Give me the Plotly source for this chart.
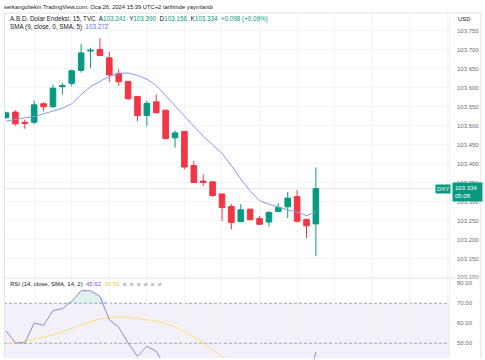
import plotly.graph_objects as go

# ---------------- data ----------------
opens = [103.521, 103.536, 103.509, 103.509, 103.558, 103.550, 103.603, 103.612, 103.646, 103.697,
         103.701, 103.679, 103.638, 103.617, 103.577, 103.527, 103.563, 103.541, 103.468, 103.485,
         103.395, 103.354, 103.352, 103.320, 103.287, 103.247, 103.280, 103.255, 103.246, 103.274,
         103.286, 103.313, 103.253, 103.241]
highs = [103.537, 103.541, 103.516, 103.566, 103.562, 103.608, 103.613, 103.648, 103.715, 103.705,
         103.731, 103.694, 103.648, 103.617, 103.577, 103.566, 103.582, 103.541, 103.487, 103.485,
         103.407, 103.372, 103.352, 103.320, 103.293, 103.293, 103.280, 103.262, 103.275, 103.295,
         103.325, 103.330, 103.253, 103.390]
lows = [103.519, 103.500, 103.492, 103.504, 103.538, 103.547, 103.582, 103.604, 103.640, 103.652,
        103.685, 103.615, 103.605, 103.569, 103.512, 103.499, 103.534, 103.464, 103.442, 103.385,
        103.350, 103.341, 103.313, 103.249, 103.227, 103.246, 103.252, 103.238, 103.234, 103.271,
        103.256, 103.245, 103.203, 103.156]
closes = [103.534, 103.505, 103.506, 103.555, 103.550, 103.599, 103.606, 103.645, 103.692, 103.699,
          103.685, 103.634, 103.616, 103.571, 103.527, 103.559, 103.534, 103.466, 103.481, 103.391,
          103.350, 103.350, 103.316, 103.284, 103.245, 103.278, 103.252, 103.240, 103.271, 103.284,
          103.309, 103.248, 103.236, 103.334]
sma9 = [103.512, 103.517, 103.521, 103.524, 103.531, 103.538, 103.546, 103.558, 103.582, 103.603,
        103.617, 103.630, 103.638, 103.639, 103.633, 103.623, 103.606, 103.579, 103.553, 103.527,
        103.500, 103.472, 103.450, 103.427, 103.395, 103.359, 103.328, 103.302, 103.293, 103.285,
        103.278, 103.272, 103.263, 103.272]
rsi = [56.2, 50.2, 50.2, 60.2, 59.0, 66.3, 67.3, 71.0, 76.3, 76.3,
       73.5, 61.8, 58.0, 50.2, 43.5, 48.5, 46.0, 38.0, 39.5, 32.0,
       28.5, 28.0, 25.5, 22.5, 20.5, 26.0, 24.0, 23.0, 27.5, 30.0,
       34.0, 29.0, 27.5, 45.62]
rsi_ma = [49.9, 50.2, 51.0, 51.9, 53.0, 54.3, 55.7, 57.4, 59.2, 60.7,
          62.2, 62.8, 63.2, 62.9, 62.4, 61.9, 61.2, 59.9, 58.2, 55.7,
          53.2, 50.2, 46.7, 43.4, 40.5, 38.5, 36.8, 35.2, 34.0, 33.0,
          32.2, 31.5, 31.0, 30.59]
price_ticks = [103.100, 103.150, 103.200, 103.250, 103.300, 103.350, 103.400, 103.450,
               103.500, 103.550, 103.600, 103.650, 103.700, 103.750]
rsi_ticks = [50, 60, 70, 80]
grid_bars = [3, 7, 11, 15, 19, 23, 27, 31, 35, 39, 43, 47]
last_time = "05:08"
change_text = "+0.098 (+0.09%)"

idx = list(range(len(closes)))

GREEN = "#089981"
RED = "#F23645"
TXT = "#131722"
AX = "#6a6d78"
FONT = "Liberation Sans, Arial, sans-serif"

W, H = 485, 360
ML, MR, MT, MB = 4, 35, 13, 0
PW, PH = W - ML - MR, H - MT - MB


def px(x):
    return (x - ML) / PW


def py(y):
    return (H - MB - y) / PH


fig = go.Figure()

fig.add_trace(go.Candlestick(
    x=idx, open=opens, high=highs, low=lows, close=closes,
    increasing=dict(line=dict(color=GREEN, width=1), fillcolor=GREEN),
    decreasing=dict(line=dict(color=RED, width=1), fillcolor=RED),
    whiskerwidth=0, hoverinfo="skip", showlegend=False,
    xaxis="x", yaxis="y"))

fig.add_trace(go.Scatter(x=idx, y=sma9, mode="lines",
                         line=dict(color="#8798ee", width=1),
                         hoverinfo="skip", showlegend=False, xaxis="x", yaxis="y"))

# RSI pane
fig.add_trace(go.Scatter(x=idx, y=[70] * len(idx), mode="lines",
                         line=dict(color="rgba(0,0,0,0)", width=0),
                         hoverinfo="skip", showlegend=False, xaxis="x2", yaxis="y2"))
fig.add_trace(go.Scatter(x=idx, y=[max(v, 70) for v in rsi], mode="lines",
                         line=dict(color="rgba(0,0,0,0)", width=0),
                         fill="tonexty", fillcolor="rgba(8,153,129,0.14)",
                         hoverinfo="skip", showlegend=False, xaxis="x2", yaxis="y2"))
fig.add_trace(go.Scatter(x=idx, y=rsi_ma, mode="lines",
                         line=dict(color="#f7e27e", width=1),
                         hoverinfo="skip", showlegend=False, xaxis="x2", yaxis="y2"))
fig.add_trace(go.Scatter(x=idx, y=rsi, mode="lines",
                         line=dict(color="#9484cc", width=1),
                         hoverinfo="skip", showlegend=False, xaxis="x2", yaxis="y2"))

price_lo = 103.0984
price_hi = 103.7973
x_lo, x_hi = -0.213, 47.28

split = py(279.5)

fig.update_layout(
    width=W, height=H,
    margin=dict(l=ML, r=MR, t=MT, b=MB),
    paper_bgcolor="white", plot_bgcolor="white",
    font=dict(family=FONT, size=6, color=AX),
    showlegend=False,
    boxgap=0.15, boxgroupgap=0.3,
    xaxis=dict(domain=[0, 1], range=[x_lo, x_hi], tickvals=grid_bars, showticklabels=False,
               showgrid=True, gridcolor="#f1f3f8", gridwidth=1, zeroline=False,
               rangeslider=dict(visible=False), anchor="y", fixedrange=True),
    yaxis=dict(domain=[split, 1], range=[price_lo, price_hi], side="right",
               tickvals=price_ticks, ticktext=[f"{v:.3f}" for v in price_ticks],
               showgrid=True, gridcolor="#f4f5f8", zeroline=False, ticks="",
               ticklabelstandoff=6, tickfont=dict(size=6, color=AX), anchor="x"),
    xaxis2=dict(domain=[0, 1], range=[x_lo, x_hi], tickvals=grid_bars, showticklabels=False,
                showgrid=True, gridcolor="#f1f3f8", zeroline=False, anchor="y2", fixedrange=True),
    yaxis2=dict(domain=[0, split], range=[42.65, 82.65], side="right",
                tickvals=rsi_ticks, ticktext=[f"{v:.2f}" for v in rsi_ticks],
                showgrid=False, zeroline=False, ticks="",
                ticklabelstandoff=6, tickfont=dict(size=6, color=AX), anchor="x2"),
)

shapes = []
# RSI band and dashed levels
shapes.append(dict(type="rect", xref="x2 domain", yref="y2", x0=0, x1=1, y0=30, y1=70,
                   fillcolor="rgba(126,87,194,0.09)", line=dict(width=0), layer="below"))
for lvl in (70, 50, 30):
    shapes.append(dict(type="line", xref="x2 domain", yref="y2", x0=0, x1=1, y0=lvl, y1=lvl,
                       line=dict(color="#a3a6af", width=1, dash="3px,2px"), layer="below"))
# current price line
shapes.append(dict(type="line", xref="x domain", yref="y", x0=0, x1=1,
                   y0=closes[-1], y1=closes[-1], line=dict(color="#e3e5ea", width=1), layer="below"))
# pane separator and frame
shapes.append(dict(type="line", xref="paper", yref="paper", x0=px(4), x1=px(481),
                   y0=py(279.5), y1=py(279.5), line=dict(color="#e0e3eb", width=1)))
shapes.append(dict(type="line", xref="paper", yref="paper", x0=px(4.5), x1=px(4.5),
                   y0=py(13), y1=py(360), line=dict(color="#e0e3eb", width=1)))
shapes.append(dict(type="line", xref="paper", yref="paper", x0=px(4), x1=px(481),
                   y0=py(13), y1=py(13), line=dict(color="#e0e3eb", width=1)))
shapes.append(dict(type="line", xref="paper", yref="paper", x0=px(449.5), x1=px(449.5),
                   y0=py(13), y1=py(360), line=dict(color="#eceef2", width=1)))
shapes.append(dict(type="line", xref="paper", yref="paper", x0=px(481), x1=px(481),
                   y0=py(13), y1=py(360), line=dict(color="#e0e3eb", width=1)))
fig.update_layout(shapes=shapes)

ann = []
ann.append(dict(xref="paper", yref="paper", x=px(2), y=py(7), xanchor="left", yanchor="middle",
                text="serkangultekin TradingView.com, Oca 26, 2024 15:39 UTC+2 tarihinde yayınlandı",
                showarrow=False, font=dict(size=5.8, color=TXT)))


def g(v):
    return f"<span style='color:{GREEN}'>{v}</span>"


line1 = ("A.B.D. Dolar Endeksi, 15, TVC  A" + g(f"{opens[-1]:.3f}") + "  Y" + g(f"{highs[-1]:.3f}")
         + "  D" + g(f"{lows[-1]:.3f}") + "  K" + g(f"{closes[-1]:.3f}") + "  " + g(change_text))
ann.append(dict(xref="paper", yref="paper", x=px(7.5), y=py(19), xanchor="left", yanchor="middle",
                text=line1, showarrow=False, font=dict(size=6.3, color=TXT)))
ann.append(dict(xref="paper", yref="paper", x=px(7.5), y=py(27), xanchor="left", yanchor="middle",
                text="SMA (9, close, 0, SMA, 5)  <span style='color:#5b74e8'>" + f"{sma9[-1]:.3f}" + "</span>",
                showarrow=False, font=dict(size=6.3, color=TXT)))
ann.append(dict(xref="paper", yref="paper", x=px(7.5), y=py(285.7), xanchor="left", yanchor="middle",
                text=("RSI (14, close, SMA, 14, 2)  <span style='color:#7E57C2'>" + f"{rsi[-1]:.2f}"
                      + "</span>  <span style='color:#e8cf3a'>" + f"{rsi_ma[-1]:.2f}"
                      + "</span>  <span style='color:#9598a1'>ø  ø  ø  ø  ø  ø</span>"),
                showarrow=False, font=dict(size=6, color=TXT)))
ann.append(dict(xref="paper", yref="paper", x=px(456), y=py(19), xanchor="left", yanchor="middle",
                text="USD", showarrow=False, font=dict(size=6, color=TXT)))
# price label
ann.append(dict(xref="paper", yref="y", x=px(451.5), y=closes[-1], xanchor="left", yanchor="top",
                yshift=7, text=f"{closes[-1]:.3f}  <br>{last_time}", align="left",
                showarrow=False, bgcolor=GREEN, borderpad=2,
                font=dict(size=6, color="white")))
ann.append(dict(xref="paper", yref="y", x=px(450.5), y=closes[-1], xanchor="right", yanchor="middle",
                text="DXY", showarrow=False, bgcolor=GREEN, borderpad=1,
                font=dict(size=6, color="white")))
fig.update_layout(annotations=ann)

fig.write_html("out.html", config={"displayModeBar": False, "staticPlot": True},
               post_script="document.body.style.margin='0';")
